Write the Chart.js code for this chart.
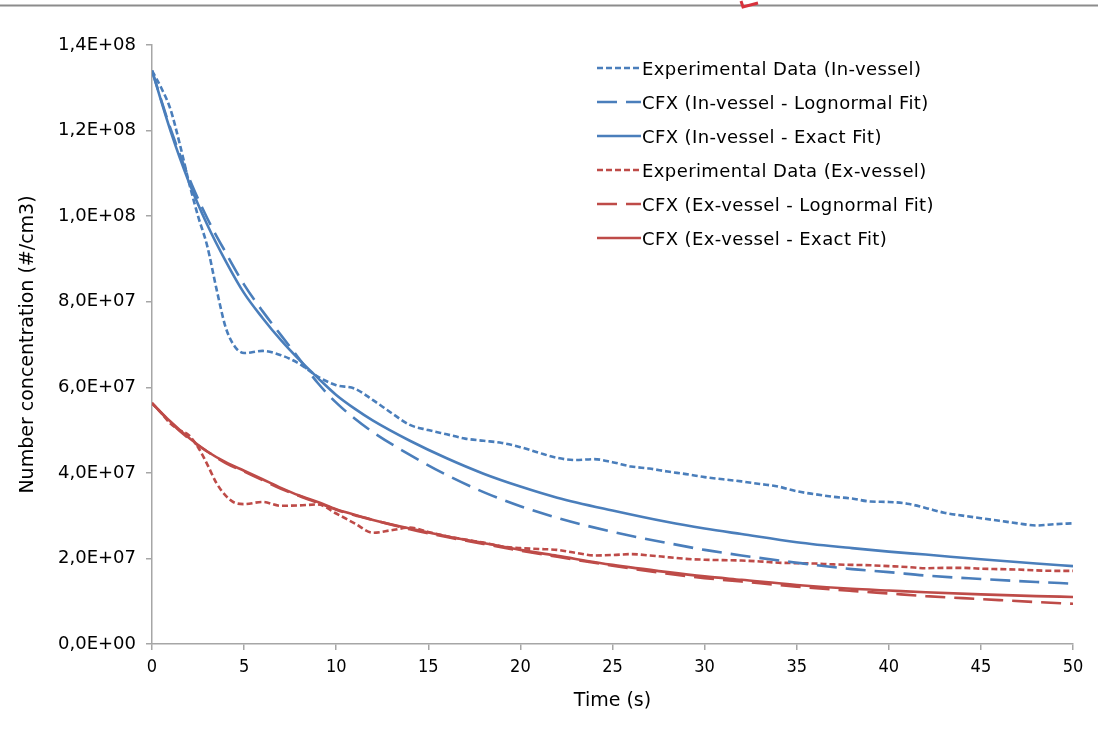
<!DOCTYPE html>
<html>
<head>
<meta charset="utf-8">
<script src="https://cdn.jsdelivr.net/npm/chart.js@4/dist/chart.umd.min.js"></script>
<style>
  body { margin: 0; background: #fff; }
  #wrap { position: relative; width: 1098px; height: 734px; }
  #legend { position: absolute; left: 597px; top: 51px; font-family: "DejaVu Sans", sans-serif; font-size: 18px; letter-spacing: 0.4px; color: #000; }
  #legend .row { height: 34px; display: flex; align-items: center; white-space: nowrap; }
  #legend svg { width: 44px; height: 10px; margin-right: 1px; }
  #deco { position: absolute; left: 0; top: 0; }
</style>
</head>
<body>
<div id="wrap">
  <canvas id="chart" width="1098" height="734"></canvas>
  <svg id="deco" width="1098" height="14">
    <line x1="0" y1="5.5" x2="1098" y2="5.5" stroke="#8c8c8c" stroke-width="2"/>
    <polyline points="741,1 743,7 758,3" fill="none" stroke="#d8323c" stroke-width="3"/>
  </svg>
  <div id="legend"></div>
</div>
<script>
// time axis samples (s)
const tExp = [0,0.5,1,1.5,2,2.5,3,3.5,4,4.5,5,6,7,8,9,10,11,12,13,14,15,16,17,18,19,20,21,22,23,24,25,
  26,27,28,29,30,31,32,33,34,35,36,37,38,39,40,41,42,43,44,45,46,47,48,49,50];
const tFit = [0,1,2,3,4,5,6,7,8,9,10,11,12,14,16,18,20,22,25,28,30,32,35,38,40,42,45,48,50];

// number concentration, in units of 1E+07 #/cm3
const expIn = [13.4,13.0,12.5,11.7,10.8,10.0,9.3,8.3,7.4,6.95,6.8,6.85,6.75,6.55,6.25,6.05,5.97,5.7,5.4,5.12,5.0,
  4.9,4.8,4.75,4.7,4.6,4.47,4.35,4.3,4.32,4.25,4.15,4.1,4.03,3.97,3.9,3.85,3.8,3.74,3.68,3.57,3.5,3.44,3.4,3.33,
  3.32,3.28,3.18,3.07,3.0,2.94,2.88,2.82,2.77,2.8,2.82];
const logIn = [13.4,12.05,10.9,9.95,9.15,8.4,7.78,7.22,6.66,6.1,5.64,5.27,4.95,4.42,3.95,3.55,3.22,2.95,2.62,2.36,2.2,
  2.07,1.9,1.75,1.68,1.6,1.52,1.45,1.41];
const exactIn = [13.4,12.0,10.8,9.8,8.95,8.2,7.62,7.1,6.64,6.22,5.82,5.5,5.22,4.75,4.34,3.98,3.68,3.42,3.12,2.85,2.7,
  2.57,2.38,2.24,2.16,2.09,1.98,1.88,1.82];
const expEx = [5.63,5.4,5.15,5.0,4.88,4.6,4.2,3.76,3.47,3.3,3.27,3.32,3.23,3.24,3.26,3.05,2.82,2.6,2.66,2.72,2.62,
  2.52,2.44,2.37,2.28,2.24,2.22,2.2,2.13,2.07,2.08,2.1,2.07,2.03,1.99,1.97,1.96,1.95,1.93,1.9,1.89,1.88,1.86,1.85,
  1.84,1.82,1.8,1.77,1.78,1.78,1.76,1.75,1.74,1.72,1.71,1.71];
const logEx = [5.63,5.18,4.8,4.5,4.23,4.03,3.83,3.63,3.46,3.3,3.14,3.01,2.9,2.68,2.5,2.34,2.18,2.04,1.83,1.64,1.54,
  1.46,1.34,1.24,1.18,1.12,1.05,0.98,0.94];
const exactEx = [5.63,5.2,4.82,4.5,4.25,4.05,3.85,3.65,3.47,3.32,3.15,3.02,2.9,2.7,2.52,2.36,2.2,2.06,1.85,1.68,1.58,
  1.5,1.38,1.29,1.25,1.21,1.16,1.12,1.1];

const labels = [
  'Experimental Data (In-vessel)',
  'CFX (In-vessel - Lognormal Fit)',
  'CFX (In-vessel - Exact Fit)',
  'Experimental Data (Ex-vessel)',
  'CFX (Ex-vessel - Lognormal Fit)',
  'CFX (Ex-vessel - Exact Fit)'
];

const BLUE = '#4a7ebb';
const RED = '#be4b48';
const DOT = [6, 3];
const LONG = [20, 9];

function pts(ts, vs) {
  return ts.map((t, i) => ({ x: t, y: vs[i] * 1e7 }));
}

function series(label, ts, vs, color, dash) {
  return {
    label: label,
    data: pts(ts, vs),
    borderColor: color,
    borderDash: dash,
    borderWidth: 2.6,
    pointRadius: 0,
    fill: false,
    cubicInterpolationMode: 'monotone'
  };
}

function sci(v) {
  if (v === 0) return '0,0E+00';
  const e = Math.floor(Math.log10(v) + 1e-9);
  const m = v / Math.pow(10, e);
  return m.toFixed(1).replace('.', ',') + 'E+' + String(e).padStart(2, '0');
}

const axisGrey = '#a6a6a6';

const chart = new Chart(document.getElementById('chart').getContext('2d'), {
  type: 'line',
  data: {
    datasets: [
      series(labels[0], tExp, expIn, BLUE, DOT),
      series(labels[1], tFit, logIn, BLUE, LONG),
      series(labels[2], tFit, exactIn, BLUE, []),
      series(labels[3], tExp, expEx, RED, DOT),
      series(labels[4], tFit, logEx, RED, LONG),
      series(labels[5], tFit, exactEx, RED, [])
    ]
  },
  options: {
    responsive: false,
    animation: false,
    devicePixelRatio: 1,
    layout: { padding: { top: 45, right: 25, left: 0, bottom: 0 } },
    plugins: { legend: { display: false }, tooltip: { enabled: false } },
    scales: {
      x: {
        type: 'linear',
        min: 0,
        max: 50,
        ticks: { stepSize: 5, color: '#000', padding: 7, font: { family: 'DejaVu Sans Condensed, DejaVu Sans', size: 18 } },
        grid: { drawOnChartArea: false, drawTicks: true, tickLength: 6, color: axisGrey, lineWidth: 1.5 },
        border: { color: axisGrey, width: 1.5 },
        title: { display: true, text: 'Time (s)', color: '#000', padding: { top: 4, bottom: 22 }, font: { family: 'DejaVu Sans', size: 19 } },
        afterFit: s => { s.height = 90; }
      },
      y: {
        min: 0,
        max: 1.4e8,
        ticks: { stepSize: 2e7, color: '#000', padding: 10, callback: v => sci(v), font: { family: 'DejaVu Sans', size: 18 } },
        grid: { drawOnChartArea: false, drawTicks: true, tickLength: 6, color: axisGrey, lineWidth: 1.5 },
        border: { color: axisGrey, width: 1.5 },
        title: { display: true, text: 'Number concentration (#/cm3)', color: '#000', padding: { top: 17 }, font: { family: 'DejaVu Sans', size: 19 } },
        afterFit: s => { s.width = 152; }
      }
    }
  }
});

// legend as html, built from the datasets
const leg = document.getElementById('legend');
chart.data.datasets.forEach(ds => {
  const row = document.createElement('div');
  row.className = 'row';
  const dash = ds.borderDash.length ? ds.borderDash.join(',') : 'none';
  row.innerHTML = '<svg viewBox="0 0 44 10"><line x1="0" y1="5" x2="44" y2="5" stroke="' + ds.borderColor +
    '" stroke-width="2.6" stroke-dasharray="' + dash + '"/></svg><span></span>';
  row.querySelector('span').textContent = ds.label;
  leg.appendChild(row);
});
</script>
</body>
</html>
